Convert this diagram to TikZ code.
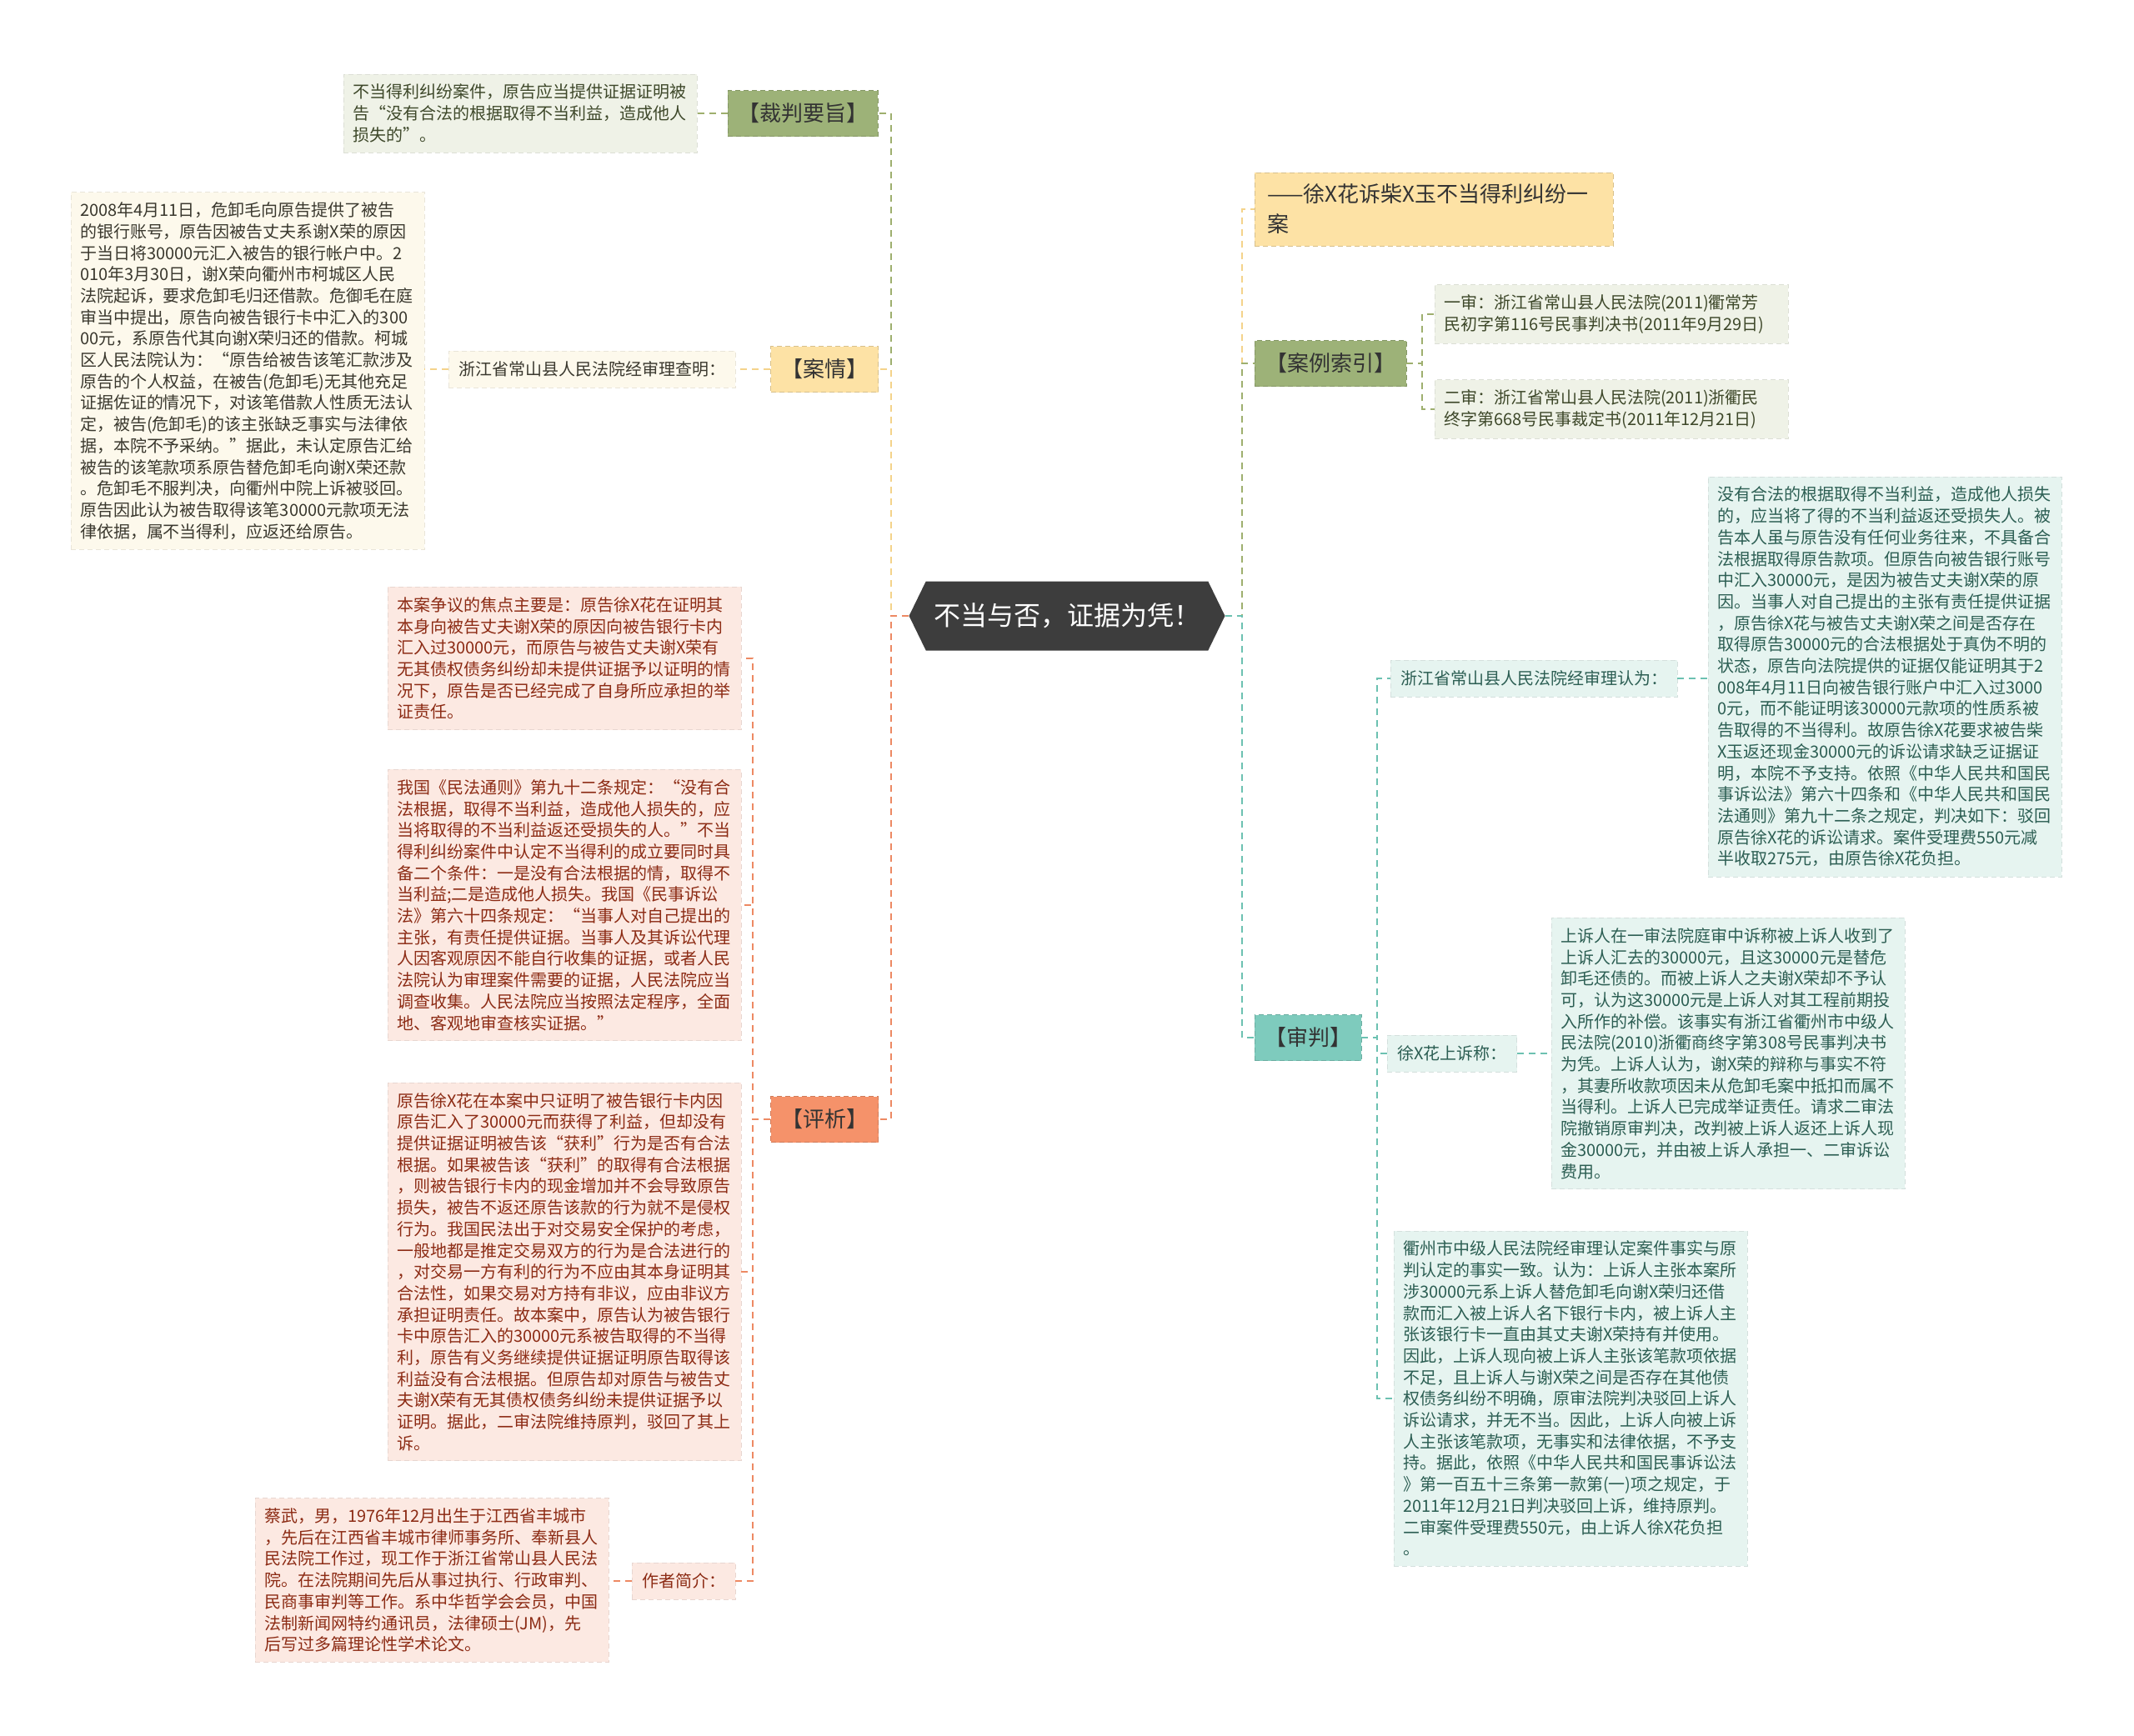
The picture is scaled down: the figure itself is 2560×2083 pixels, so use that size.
\documentclass[tikz,border=0pt]{standalone}
\usepackage{fontspec}
\setmainfont{Noto Sans CJK SC}
\usetikzlibrary{shapes.symbols}
\definecolor{Rootfill}{RGB}{61,61,61}
\definecolor{Gfill}{RGB}{157,178,120}
\definecolor{Glight}{RGB}{239,242,231}
\definecolor{Gline}{RGB}{158,175,110}
\definecolor{Gtext}{RGB}{62,72,42}
\definecolor{Yfill}{RGB}{253,226,165}
\definecolor{Ylight}{RGB}{253,249,236}
\definecolor{Yline}{RGB}{244,211,138}
\definecolor{Ytext}{RGB}{58,56,46}
\definecolor{Ofill}{RGB}{245,146,106}
\definecolor{Olight}{RGB}{252,233,226}
\definecolor{Oline}{RGB}{237,137,99}
\definecolor{Otext}{RGB}{140,43,20}
\definecolor{Tfill}{RGB}{126,203,189}
\definecolor{Tlight}{RGB}{230,244,240}
\definecolor{Tline}{RGB}{108,193,177}
\definecolor{Ttext}{RGB}{44,94,83}

\begin{document}
\begin{tikzpicture}[x=0.5pt,y=-0.5pt,
  root/.style={signal,signal to=west and east,signal pointer angle=128,fill=Rootfill,text=white,
    minimum width=189.5pt,minimum height=41.5pt,inner sep=0pt,font=\fontsize{16}{19}\selectfont},
  branch/.style={fill=#1,draw=#1!85!black,densely dashed,line width=0.4pt,inner sep=0pt,
    minimum height=27.5pt,text=black!80,font=\fontsize{13}{16}\selectfont},
  leaf/.style 2 args={fill=#1,draw=#1!92!black,densely dashed,line width=0.4pt,text=#2,
    text width=201pt,align=left,inner xsep=5.5pt,inner ysep=6pt,font=\fontsize{10}{12.85}\selectfont},
  tag/.style 2 args={fill=#1,draw=#1!92!black,densely dashed,line width=0.4pt,text=#2,
    inner xsep=6pt,inner ysep=0pt,minimum height=22pt,font=\fontsize{10}{12}\selectfont},
  link/.style={draw=#1,line width=1pt,dash pattern=on 4pt off 3pt}]
\path[use as bounding box] (0,0) rectangle (2560,2083);

\node[root] (root) at (1280,739) {不当与否，证据为凭！};

% left side
\node[branch=Gfill,minimum width=90pt] (zhi) at (963,136) {【裁判要旨】};
\node[leaf={Glight}{Gtext}] (zhiText) at (624,136) {不当得利纠纷案件，原告应当提供证据证明被\\告“没有合法的根据取得不当利益，造成他人\\损失的”。};
\node[branch=Yfill,minimum width=64.5pt] (qing) at (989,443) {【案情】};
\node[tag={Ylight}{Ytext}] (qingTag) at (710,443) {浙江省常山县人民法院经审理查明：};
\node[leaf={Ylight}{Ytext}] (qingText) at (297,445) {2008年4月11日，危卸毛向原告提供了被告\\的银行账号，原告因被告丈夫系谢X荣的原因\\于当日将30000元汇入被告的银行帐户中。2\\010年3月30日，谢X荣向衢州市柯城区人民\\法院起诉，要求危卸毛归还借款。危御毛在庭\\审当中提出，原告向被告银行卡中汇入的300\\00元，系原告代其向谢X荣归还的借款。柯城\\区人民法院认为：“原告给被告该笔汇款涉及\\原告的个人权益，在被告(危卸毛)无其他充足\\证据佐证的情况下，对该笔借款人性质无法认\\定，被告(危卸毛)的该主张缺乏事实与法律依\\据，本院不予采纳。”据此，未认定原告汇给\\被告的该笔款项系原告替危卸毛向谢X荣还款\\。危卸毛不服判决，向衢州中院上诉被驳回。\\原告因此认为被告取得该笔30000元款项无法\\律依据，属不当得利，应返还给原告。};
\node[branch=Ofill,minimum width=64.5pt] (px) at (989,1343) {【评析】};
\node[leaf={Olight}{Otext}] (pxA) at (677,790) {本案争议的焦点主要是：原告徐X花在证明其\\本身向被告丈夫谢X荣的原因向被告银行卡内\\汇入过30000元，而原告与被告丈夫谢X荣有\\无其债权债务纠纷却未提供证据予以证明的情\\况下，原告是否已经完成了自身所应承担的举\\证责任。};
\node[leaf={Olight}{Otext}] (pxB) at (677,1086) {我国《民法通则》第九十二条规定：“没有合\\法根据，取得不当利益，造成他人损失的，应\\当将取得的不当利益返还受损失的人。”不当\\得利纠纷案件中认定不当得利的成立要同时具\\备二个条件：一是没有合法根据的情，取得不\\当利益;二是造成他人损失。我国《民事诉讼\\法》第六十四条规定：“当事人对自己提出的\\主张，有责任提供证据。当事人及其诉讼代理\\人因客观原因不能自行收集的证据，或者人民\\法院认为审理案件需要的证据，人民法院应当\\调查收集。人民法院应当按照法定程序，全面\\地、客观地审查核实证据。”};
\node[leaf={Olight}{Otext}] (pxC) at (677,1526) {原告徐X花在本案中只证明了被告银行卡内因\\原告汇入了30000元而获得了利益，但却没有\\提供证据证明被告该“获利”行为是否有合法\\根据。如果被告该“获利”的取得有合法根据\\，则被告银行卡内的现金增加并不会导致原告\\损失，被告不返还原告该款的行为就不是侵权\\行为。我国民法出于对交易安全保护的考虑，\\一般地都是推定交易双方的行为是合法进行的\\，对交易一方有利的行为不应由其本身证明其\\合法性，如果交易对方持有非议，应由非议方\\承担证明责任。故本案中，原告认为被告银行\\卡中原告汇入的30000元系被告取得的不当得\\利，原告有义务继续提供证据证明原告取得该\\利益没有合法根据。但原告却对原告与被告丈\\夫谢X荣有无其债权债务纠纷未提供证据予以\\证明。据此，二审法院维持原判，驳回了其上\\诉。};
\node[tag={Olight}{Otext}] (authorTag) at (820,1897) {作者简介：};
\node[leaf={Olight}{Otext}] (authorText) at (518,1896) {蔡武，男，1976年12月出生于江西省丰城市\\，先后在江西省丰城市律师事务所、奉新县人\\民法院工作过，现工作于浙江省常山县人民法\\院。在法院期间先后从事过执行、行政审判、\\民商事审判等工作。系中华哲学会会员，中国\\法制新闻网特约通讯员，法律硕士(JM)，先\\后写过多篇理论性学术论文。};

% right side
\node[branch=Yfill,text width=200pt,align=left,inner xsep=7.5pt,inner ysep=7pt,font=\fontsize{13}{18}\selectfont] (title) at (1720,251) {——徐X花诉柴X玉不当得利纠纷一\\案};
\node[branch=Gfill,minimum width=91pt] (suoyin) at (1596,436) {【案例索引】};
\node[leaf={Glight}{Gtext}] (yishen) at (1933,377) {一审：浙江省常山县人民法院(2011)衢常芳\\民初字第116号民事判决书(2011年9月29日)};
\node[leaf={Glight}{Gtext}] (ershen) at (1933,491) {二审：浙江省常山县人民法院(2011)浙衢民\\终字第668号民事裁定书(2011年12月21日)};
\node[branch=Tfill,minimum width=64pt] (shenpan) at (1569,1245) {【审判】};
\node[tag={Tlight}{Ttext}] (renweiTag) at (1840,814) {浙江省常山县人民法院经审理认为：};
\node[leaf={Tlight}{Ttext}] (renweiText) at (2261,812) {没有合法的根据取得不当利益，造成他人损失\\的，应当将了得的不当利益返还受损失人。被\\告本人虽与原告没有任何业务往来，不具备合\\法根据取得原告款项。但原告向被告银行账号\\中汇入30000元，是因为被告丈夫谢X荣的原\\因。当事人对自己提出的主张有责任提供证据\\，原告徐X花与被告丈夫谢X荣之间是否存在\\取得原告30000元的合法根据处于真伪不明的\\状态，原告向法院提供的证据仅能证明其于2\\008年4月11日向被告银行账户中汇入过3000\\0元，而不能证明该30000元款项的性质系被\\告取得的不当得利。故原告徐X花要求被告柴\\X玉返还现金30000元的诉讼请求缺乏证据证\\明，本院不予支持。依照《中华人民共和国民\\事诉讼法》第六十四条和《中华人民共和国民\\法通则》第九十二条之规定，判决如下：驳回\\原告徐X花的诉讼请求。案件受理费550元减\\半收取275元，由原告徐X花负担。};
\node[tag={Tlight}{Ttext}] (shangsuTag) at (1742,1264) {徐X花上诉称：};
\node[leaf={Tlight}{Ttext}] (shangsuText) at (2073,1264) {上诉人在一审法院庭审中诉称被上诉人收到了\\上诉人汇去的30000元，且这30000元是替危\\卸毛还债的。而被上诉人之夫谢X荣却不予认\\可，认为这30000元是上诉人对其工程前期投\\入所作的补偿。该事实有浙江省衢州市中级人\\民法院(2010)浙衢商终字第308号民事判决书\\为凭。上诉人认为，谢X荣的辩称与事实不符\\，其妻所收款项因未从危卸毛案中抵扣而属不\\当得利。上诉人已完成举证责任。请求二审法\\院撤销原审判决，改判被上诉人返还上诉人现\\金30000元，并由被上诉人承担一、二审诉讼\\费用。};
\node[leaf={Tlight}{Ttext}] (quzhou) at (1884,1678) {衢州市中级人民法院经审理认定案件事实与原\\判认定的事实一致。认为：上诉人主张本案所\\涉30000元系上诉人替危卸毛向谢X荣归还借\\款而汇入被上诉人名下银行卡内，被上诉人主\\张该银行卡一直由其丈夫谢X荣持有并使用。\\因此，上诉人现向被上诉人主张该笔款项依据\\不足，且上诉人与谢X荣之间是否存在其他债\\权债务纠纷不明确，原审法院判决驳回上诉人\\诉讼请求，并无不当。因此，上诉人向被上诉\\人主张该笔款项，无事实和法律依据，不予支\\持。据此，依照《中华人民共和国民事诉讼法\\》第一百五十三条第一款第(一)项之规定，于\\2011年12月21日判决驳回上诉，维持原判。\\二审案件受理费550元，由上诉人徐X花负担\\。};

% connectors
\draw[link=Gline] (root.west) -- ++(-21,0) |- (zhi.east);
\draw[link=Yline] (root.west) -- ++(-21,0) |- (qing.east);
\draw[link=Oline] (root.west) -- ++(-21,0) |- (px.east);
\draw[link=Gline] (zhi.west) -- (zhi.west -| zhiText.east);
\draw[link=Yline] (qing.west) -- (qingTag.east);
\draw[link=Yline] (qingTag.west) -- (qingTag.west -| qingText.east);
\foreach \n in {pxA,pxB,pxC,authorTag}
  \draw[link=Oline] (px.west) -- ++(-21,0) |- (\n.east);
\draw[link=Oline] (authorTag.west) -- (authorTag.west -| authorText.east);

\draw[link=Yline] (root.east) -- ++(20,0) |- (title.west);
\draw[link=Gline] (root.east) -- ++(20,0) |- (suoyin.west);
\draw[link=Tline] (root.east) -- ++(20,0) |- (shenpan.west);
\foreach \n in {yishen,ershen}
  \draw[link=Gline] (suoyin.east) -- ++(19,0) |- (\n.west);
\foreach \n in {renweiTag,shangsuTag,quzhou}
  \draw[link=Tline] (shenpan.east) -- ++(19,0) |- (\n.west);
\draw[link=Tline] (renweiTag.east) -- (renweiTag.east -| renweiText.west);
\draw[link=Tline] (shangsuTag.east) -- (shangsuTag.east -| shangsuText.west);
\end{tikzpicture}
\end{document}
